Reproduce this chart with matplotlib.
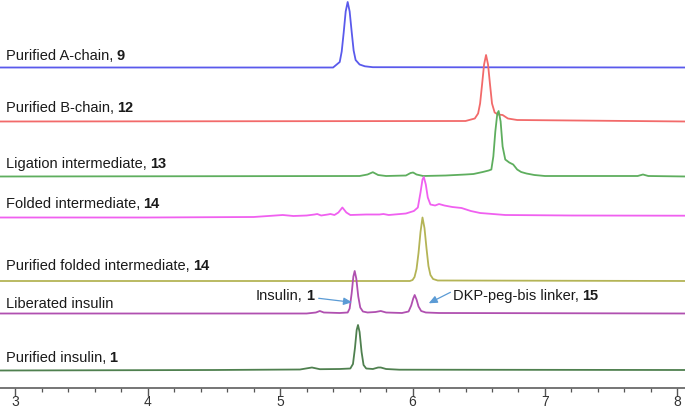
import matplotlib
matplotlib.use('Agg')
import matplotlib.pyplot as plt

# ─────────────────────────────────────────────
# DATA: retention time (min) vs signal above baseline
# ─────────────────────────────────────────────
a_chain_t = [2.88, 5.40, 5.45, 5.465, 5.48, 5.495, 5.51, 5.525, 5.54, 5.555, 5.57, 5.60, 5.64, 5.70, 8.07]
a_chain_h = [0, 0, 5.5, 16, 35, 56, 65.5, 56, 36, 17, 7.5, 3, 1.2, 0.3, 0]

b_chain_t = [2.88, 6.40, 6.47, 6.495, 6.51, 6.525, 6.54, 6.555, 6.57, 6.585, 6.60, 6.62,
             6.645, 6.68, 6.72, 6.79, 8.07]
b_chain_h = [0, 0.5, 3, 8, 18, 37, 57, 66.5, 57, 37, 18, 9, 7, 6.5, 3, 1.5, 0]

ligation_t = [2.88, 5.60, 5.66, 5.70, 5.74, 5.80, 5.95, 5.985, 6.004, 6.03, 6.08, 6.25, 6.40,
              6.46, 6.53, 6.575, 6.595, 6.61, 6.625, 6.64, 6.65, 6.665, 6.68, 6.70, 6.73,
              6.76, 6.79, 6.82, 6.86, 6.92, 7.00, 7.70, 7.74, 7.78, 8.07]
ligation_h = [0, 0.5, 2, 4.3, 1.5, 0.5, 1, 3.5, 4, 2, 0.5, 1, 2,
              2.5, 4.5, 6, 7, 20, 45, 63, 65.5, 55, 30, 17, 14,
              12, 7, 4.5, 3, 1.5, 0.5, 0.5, 2, 0.5, 0]

folded_t = [2.88, 4.00, 4.80, 5.02, 5.10, 5.20, 5.26, 5.28, 5.31, 5.36, 5.38, 5.41, 5.44,
            5.47, 5.50, 5.53, 5.65, 5.75, 5.78, 5.82, 5.95, 6.01, 6.04, 6.06, 6.075,
            6.085, 6.10, 6.115, 6.135, 6.17, 6.20, 6.24, 6.30, 6.37, 6.44, 6.51, 6.70,
            7.20, 8.07]
folded_h = [0, 0, 0.5, 2.5, 1.5, 2, 3, 3.5, 2, 3, 3.5, 2.5, 5,
            10, 5, 2.5, 3, 3, 3.5, 2.5, 4, 6.5, 10, 25, 38,
            40.5, 33, 20, 13, 12, 13.5, 12, 10.5, 9.5, 6.5, 4.5, 2.5,
            2, 1.8]

pur_folded_t = [2.88, 5.98, 6.00, 6.015, 6.03, 6.045, 6.06, 6.075, 6.09, 6.105, 6.12,
                6.135, 6.155, 6.19, 8.07]
pur_folded_h = [0, 0, 1, 4, 12, 28, 49, 63.5, 53, 33, 15, 6, 2, 0.5, 0]

liberated_t = [2.88, 5.20, 5.27, 5.30, 5.33, 5.45, 5.51, 5.525, 5.54, 5.553, 5.563, 5.575,
               5.59, 5.605, 5.625, 5.66, 5.72, 5.76, 5.80, 5.92, 5.97, 5.99, 6.005, 6.016,
               6.03, 6.045, 6.065, 6.10, 6.20, 8.07]
liberated_h = [0, 0, 1, 2.5, 1, 0.5, 1, 5, 20, 37, 42.5, 35,
               17, 6, 2, 1, 1.5, 2.5, 1, 0.5, 2, 8, 15, 18.5,
               14, 7, 2.5, 1, 0.5, 0]

insulin_t = [2.88, 4.50, 5.15, 5.24, 5.30, 5.45, 5.53, 5.55, 5.565, 5.578, 5.588, 5.60,
             5.615, 5.63, 5.65, 5.70, 5.74, 5.76, 5.80, 5.90, 8.07]
insulin_h = [-0.5, 0, 0.5, 2.5, 0.8, 1, 1.5, 6, 22, 40, 45, 38,
             18, 5, 1.5, 1, 2.5, 2.5, 1, 0.3, 0]

trace_names = ['Purified A-chain,', 'Purified B-chain,', 'Ligation intermediate,',
               'Folded intermediate,', 'Purified folded intermediate,',
               'Liberated insulin', 'Purified insulin,']
trace_nums = ['9', '12', '13', '14', '14', '', '1']

x_ticks = [3, 4, 5, 6, 7, 8]

# ─────────────────────────────────────────────
# LAYOUT / STYLE
# ─────────────────────────────────────────────
offsets = [322.5, 268.5, 213.5, 172.5, 109, 76.5, 20]
label_y = [330, 278.3, 221.7, 181.7, 120, 81.7, 27.7]
colors = ['#5a5aec', '#f26a6a', '#5eae5e', '#f060f0', '#b4b456', '#b050b0', '#4f804f']
traces = [(a_chain_t, a_chain_h), (b_chain_t, b_chain_h), (ligation_t, ligation_h),
          (folded_t, folded_h), (pur_folded_t, pur_folded_h),
          (liberated_t, liberated_h), (insulin_t, insulin_h)]
FS = 10.5
TXT = '#1a1a1a'

plt.rcParams['font.family'] = ['Liberation Sans', 'DejaVu Sans']

fig = plt.figure(figsize=(6.85, 4.07), dpi=100)
ax = fig.add_axes([0, 19 / 407, 1, 388 / 407])
ax.set_xlim(2.8845, 8.0574)
ax.set_ylim(2, 390)

for (t, h), off, col in zip(traces, offsets, colors):
    ax.plot(t, [v + off for v in h], color=col, lw=1.3, solid_joinstyle='round')


def label(x, y, name, num):
    # normal text followed by the bold compound number
    t1 = ax.text(x, y, name, fontsize=FS, color=TXT, va='baseline')
    if num:
        ax.annotate(num, xy=(1, 0), xycoords=t1, xytext=(2.4, 0),
                    textcoords='offset points', va='bottom', ha='left',
                    fontsize=FS, fontweight='bold', color=TXT)


for name, num, y in zip(trace_names, trace_nums, label_y):
    label(2.93, y, name, num)

# peak annotations
arrow_kw = dict(arrowstyle='-|>,head_length=0.5,head_width=0.22', color='#5b9bd5',
                lw=0.9, shrinkA=0, shrinkB=0)
label(4.818, 90, 'Insulin,', '1')
ax.annotate('', xy=(5.543, 87.7), xytext=(5.291, 91.7), arrowprops=arrow_kw)
label(6.305, 90, 'DKP-peg-bis linker,', '15')
ax.annotate('', xy=(6.122, 86.7), xytext=(6.286, 97.7), arrowprops=arrow_kw)

# ─────────────────────────────────────────────
# AXIS
# ─────────────────────────────────────────────
for s in ['top', 'right', 'left']:
    ax.spines[s].set_visible(False)
ax.spines['bottom'].set_color('#6a6a6a')
ax.spines['bottom'].set_linewidth(1.3)
ax.set_yticks([])
ax.set_xticks(x_ticks)
ax.set_xticks([3 + 0.2 * i for i in range(26)], minor=True)
ax.tick_params(axis='x', which='major', direction='out', length=5.5, width=1,
               color='#555555', labelsize=10, labelcolor='#333333', pad=-0.8)
ax.tick_params(axis='x', which='minor', direction='out', length=3.2, width=0.9,
               color='#555555')

plt.savefig('out.png', dpi=100)
plt.close()
